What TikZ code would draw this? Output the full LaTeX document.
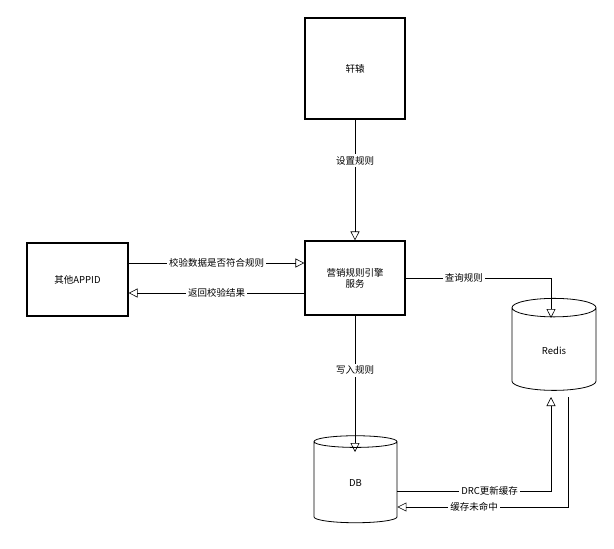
\documentclass[tikz,border=0pt]{standalone}
\usepackage{fontspec}
\newfontfamily\cjk{Noto Sans CJK SC}
\usetikzlibrary{arrows.meta, shapes.geometric, positioning, calc}
\tikzset{
  box/.style={draw, line width=1.2pt, minimum width=100pt, font=\cjk\fontsize{9.5}{11}\selectfont, align=center},
  db/.style={draw, cylinder, shape border rotate=90, aspect=0.6, line width=0.8pt, minimum width=84pt, font=\cjk\fontsize{9.5}{11}\selectfont},
  link/.style={line width=0.6pt, -{Triangle[open, length=9pt, width=9pt]}},
  lbl/.style={fill=white, font=\cjk\fontsize{9.5}{11}\selectfont, inner sep=2pt}
}
\begin{document}
\begin{tikzpicture}[x=1pt, y=-1pt]
\useasboundingbox (0,0) rectangle (614,549);
% boxes
\node[box, minimum height=101pt] (xuanyuan) at (355,68.5) {轩辕};
\node[box, minimum height=74pt] (engine) at (355,278) {营销规则引擎\\服务};
\node[box, minimum height=73pt, minimum width=101pt] (appid) at (77.5,279.5) {其他APPID};
\node[db, minimum height=92pt] (redis) at (554,351) {Redis};
\node[db, minimum height=87pt, minimum width=83pt] (dbase) at (355.5,483.5) {DB};
% connectors
\draw[link] (xuanyuan.south) -- node[lbl, pos=0.34] {设置规则} (engine.north);
\draw[link] (appid.east |- 0,263) -- node[lbl] {校验数据是否符合规则} (engine.west |- 0,263);
\draw[link] (engine.west |- 0,293) -- node[lbl] {返回校验结果} (appid.east |- 0,293);
\draw[link] (engine.east |- 0,278) -- node[lbl, pos=0.4] {查询规则} (551,278) -- (551,318);
\draw[link] (engine.south) -- node[lbl, pos=0.4] {写入规则} (355,452);
\draw[link] (dbase.east |- 0,491) -- node[lbl, pos=0.6] {DRC更新缓存} (551,491) -- (551,397);
\draw[link] (568,397) -- (568,507) -- node[lbl, pos=0.55] {缓存未命中} (dbase.east |- 0,507);
\end{tikzpicture}
\end{document}
